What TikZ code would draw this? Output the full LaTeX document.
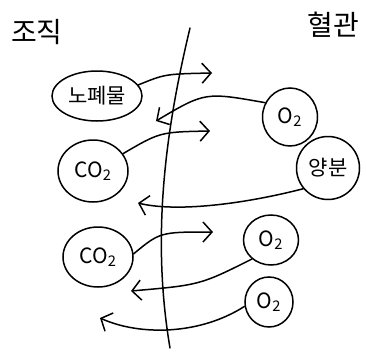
\documentclass[tikz,border=0pt]{standalone}
\usepackage{fontspec}
\newfontfamily\kr{Noto Sans CJK KR}
\usetikzlibrary{shapes.geometric,arrows.meta}
\begin{document}
\begin{tikzpicture}[x=1pt,y=-1pt,line width=1.5pt,line cap=round,
  blob/.style={draw, ellipse, inner sep=0pt, font=\kr\fontsize{21}{21}\selectfont},
  flow/.style={-{Straight Barb[length=9pt,width=20pt]}},
  title/.style={font=\kr\fontsize{28}{28}\selectfont}]
\useasboundingbox (0,0) rectangle (367,351);
\node[title] (t1) at (37,32) {조직};
\node[title] (t2) at (333,25) {혈관};
% wall
\coordinate (wtop) at (190,28);
\coordinate (wbot) at (170,348);
\draw (wtop) .. controls (168,120) and (150,230) .. (wbot);
% nodes
\node[blob, minimum width=90, minimum height=50] (w) at (97,96) {노폐물};
\node[blob, minimum width=55, minimum height=58] (o1) at (290,117) {O\textsubscript{2}};
\node[blob, minimum width=70, minimum height=62] (c1) at (93,171) {CO\textsubscript{2}};
\node[blob, minimum width=63, minimum height=63] (n) at (328,168) {양분};
\node[blob, minimum width=70, minimum height=60] (c2) at (98,257) {CO\textsubscript{2}};
\node[blob, minimum width=55, minimum height=50] (o2) at (271,240) {O\textsubscript{2}};
\node[blob, minimum width=48, minimum height=50] (o3) at (269,302) {O\textsubscript{2}};
% arrows
\coordinate (a1) at (212,73);
\coordinate (a2) at (156,121);
\coordinate (a3) at (210,131);
\coordinate (a4) at (138,203);
\coordinate (a5) at (213,232);
\coordinate (a6) at (131,291);
\coordinate (a7) at (100,318);
\draw[flow] (w.15) .. controls (165,74) .. (a1);
\draw[flow] (o1.150) .. controls (205,92) .. (a2);
\draw[flow] (c1.30) .. controls (160,132) .. (a3);
\draw[flow] (n.220) .. controls (240,205) and (175,212) .. (a4);
\draw[flow] (c2.5) .. controls (160,232) .. (a5);
\draw[flow] (o2.225) .. controls (200,285) .. (a6);
\draw[flow] (o3.190) .. controls (200,335) and (140,336) .. (a7);
\end{tikzpicture}
\end{document}
